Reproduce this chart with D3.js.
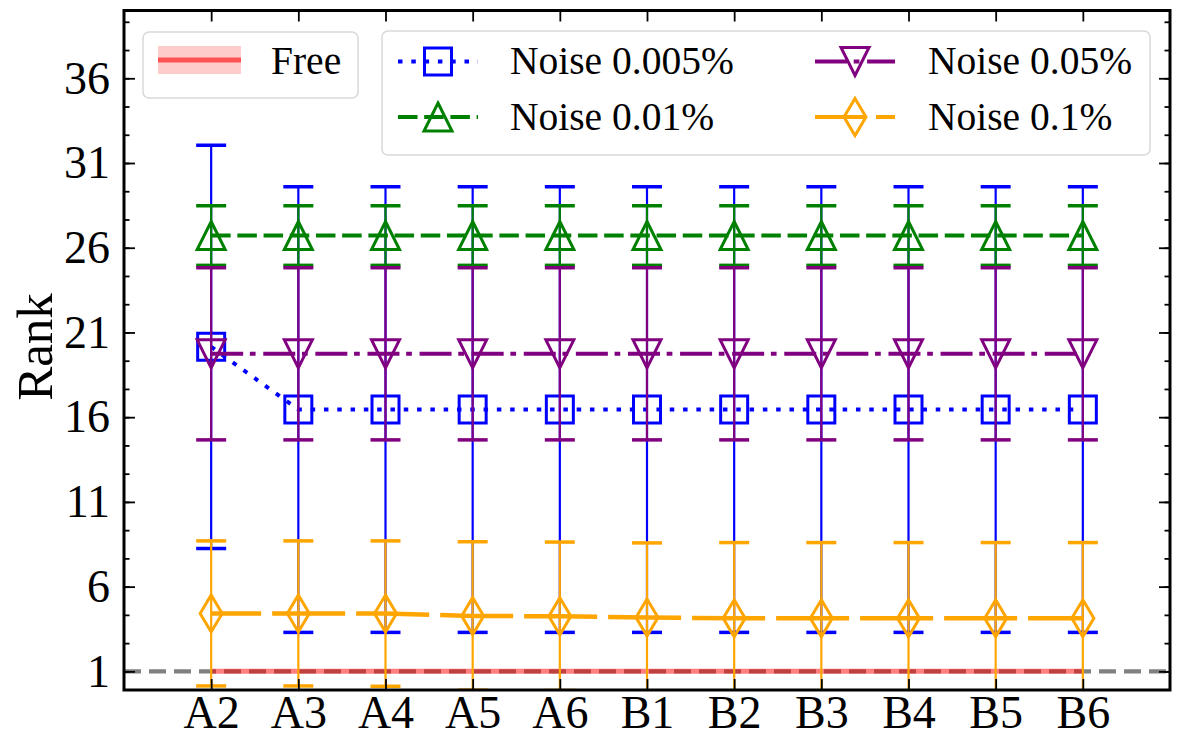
<!DOCTYPE html>
<html>
<head>
<meta charset="utf-8">
<script src="https://cdn.jsdelivr.net/npm/d3@7"></script>
<style>
  body { margin: 0; background: #fff; }
  svg { display: block; font-family: "Liberation Serif", "Times New Roman", serif; }
</style>
</head>
<body>
<div id="chart"></div>
<script>
// Categories on the x axis
const categories = ['A2', 'A3', 'A4', 'A5', 'A6', 'B1', 'B2', 'B3', 'B4', 'B5', 'B6'];

// Free baseline (rank 1, no spread)
const freeMean = [1, 1, 1, 1, 1, 1, 1, 1, 1, 1, 1];
const freeStd = [0, 0, 0, 0, 0, 0, 0, 0, 0, 0, 0];

// Noise series: mean rank and error
const noise005Mean = [20.15, 16.45, 16.45, 16.45, 16.45, 16.45, 16.45, 16.45, 16.45, 16.45, 16.45];
const noise005Err = [11.9, 13.15, 13.15, 13.15, 13.15, 13.15, 13.15, 13.15, 13.15, 13.15, 13.15];

const noise01Mean = [26.72, 26.72, 26.72, 26.72, 26.72, 26.72, 26.72, 26.72, 26.72, 26.72, 26.72];
const noise01Err = [1.76, 1.76, 1.76, 1.76, 1.76, 1.76, 1.76, 1.76, 1.76, 1.76, 1.76];

const noise05Mean = [19.74, 19.74, 19.74, 19.74, 19.74, 19.74, 19.74, 19.74, 19.74, 19.74, 19.74];
const noise05Err = [5.08, 5.08, 5.08, 5.08, 5.08, 5.08, 5.08, 5.08, 5.08, 5.08, 5.08];

const noise1Mean = [4.42, 4.42, 4.41, 4.27, 4.25, 4.18, 4.13, 4.13, 4.13, 4.13, 4.13];
const noise1Err = [4.28, 4.28, 4.29, 4.38, 4.38, 4.4, 4.47, 4.47, 4.47, 4.47, 4.47];

// Axis ticks
const yTicks = [1, 6, 11, 16, 21, 26, 31, 36];
const yMinorTicks = d3.range(1, 40, 5 / 3);

const W = 1199, H = 756;
const plot = { left: 124, right: 1170, top: 10.5, bottom: 690 };

const svg = d3.select('#chart').append('svg')
  .attr('width', W).attr('height', H);

const x = d3.scaleLinear().domain([-1, 11]).range([plot.left, plot.right]);
const y = d3.scaleLinear().domain([-0.1, 40]).range([plot.bottom, plot.top]);

svg.append('clipPath').attr('id', 'clip')
  .append('rect')
  .attr('x', plot.left).attr('y', plot.top)
  .attr('width', plot.right - plot.left).attr('height', plot.bottom - plot.top);

const g = svg.append('g').attr('clip-path', 'url(#clip)');

// Marker paths
function markerPath(type) {
  if (type === 'square') return 'M-13.5,-13.5H13.5V13.5H-13.5Z';
  if (type === 'up') return 'M0,-14L14,14H-14Z';
  if (type === 'down') return 'M0,14L14,-14H-14Z';
  if (type === 'diamond') return 'M0,-18.5L11,0L0,18.5L-11,0Z';
}

// Reference line at rank 1
g.append('line')
  .attr('x1', plot.left).attr('x2', plot.right)
  .attr('y1', y(1)).attr('y2', y(1))
  .attr('stroke', '#808080').attr('stroke-width', 4.2)
  .attr('stroke-dasharray', '17,8');

// Free band and line
const idx = d3.range(categories.length);
g.append('path')
  .datum(idx)
  .attr('fill', 'rgba(255,0,0,0.2)')
  .attr('d', d3.area()
    .x(i => x(i))
    .y0(i => y(freeMean[i] - freeStd[i]))
    .y1(i => y(freeMean[i] + freeStd[i])));
g.append('path')
  .datum(idx)
  .attr('fill', 'none')
  .attr('stroke', 'rgba(255,0,0,0.5)')
  .attr('stroke-width', 5)
  .attr('d', d3.line().x(i => x(i)).y(i => y(freeMean[i])));

const series = [
  { name: 'Noise 0.005%', mean: noise005Mean, err: noise005Err, color: '#0000ff', dash: '4.5,8.8', offset: 0, marker: 'square' },
  { name: 'Noise 0.01%', mean: noise01Mean, err: noise01Err, color: '#008000', dash: '19.5,6.7', offset: 0, marker: 'up' },
  { name: 'Noise 0.05%', mean: noise05Mean, err: noise05Err, color: '#800080', dash: '32,6.7,5.7,7.7', offset: 0, marker: 'down' },
  { name: 'Noise 0.1%', mean: noise1Mean, err: noise1Err, color: '#ffa500', dash: '73,11', offset: 23, marker: 'diamond' }
];

series.forEach(s => {
  g.append('path')
    .datum(idx)
    .attr('fill', 'none')
    .attr('stroke', s.color)
    .attr('stroke-width', s.marker === 'diamond' ? 4.5 : 4)
    .attr('stroke-dasharray', s.dash)
    .attr('stroke-dashoffset', s.offset)
    .attr('d', d3.line().x(i => x(i)).y(i => y(s.mean[i])));

  const eb = g.append('g').attr('stroke', s.color);
  eb.selectAll('line.bar').data(idx).join('line')
    .attr('class', 'bar')
    .attr('x1', i => x(i)).attr('x2', i => x(i))
    .attr('y1', i => y(s.mean[i] - s.err[i]))
    .attr('y2', i => y(s.mean[i] + s.err[i]))
    .attr('stroke-width', 2.2);
  eb.selectAll('line.capHi').data(idx).join('line')
    .attr('class', 'capHi')
    .attr('x1', i => x(i) - 15).attr('x2', i => x(i) + 15)
    .attr('y1', i => y(s.mean[i] + s.err[i]))
    .attr('y2', i => y(s.mean[i] + s.err[i]))
    .attr('stroke-width', 3.5);
  eb.selectAll('line.capLo').data(idx).join('line')
    .attr('class', 'capLo')
    .attr('x1', i => x(i) - 15).attr('x2', i => x(i) + 15)
    .attr('y1', i => y(s.mean[i] - s.err[i]))
    .attr('y2', i => y(s.mean[i] - s.err[i]))
    .attr('stroke-width', 3.5);

  g.append('g').selectAll('path').data(idx).join('path')
    .attr('transform', i => `translate(${x(i)},${y(s.mean[i])})`)
    .attr('d', markerPath(s.marker))
    .attr('fill', 'none')
    .attr('stroke', s.color)
    .attr('stroke-width', 3);
});

// Axes with inward ticks
function styleAxis(sel, fontSize) {
  sel.select('.domain').remove();
  sel.selectAll('.tick line').attr('stroke', '#000').attr('stroke-width', 1.8);
  sel.selectAll('.tick text')
    .attr('fill', '#000')
    .style('font-size', fontSize + 'px')
    .style('font-family', '"Liberation Serif", "Times New Roman", serif');
}

svg.append('g')
  .attr('transform', `translate(0,${plot.bottom})`)
  .call(d3.axisBottom(x).tickValues(idx).tickFormat(i => categories[i])
    .tickSize(-11).tickSizeOuter(0).tickPadding(5))
  .call(s => styleAxis(s, 46));
svg.append('g')
  .attr('transform', `translate(0,${plot.top})`)
  .call(d3.axisTop(x).tickValues(idx).tickFormat('').tickSize(-11).tickSizeOuter(0))
  .call(s => styleAxis(s, 46));

svg.append('g')
  .attr('transform', `translate(${plot.left},0)`)
  .call(d3.axisLeft(y).tickValues(yMinorTicks).tickFormat('').tickSize(-5.5).tickSizeOuter(0))
  .call(s => styleAxis(s, 46));
svg.append('g')
  .attr('transform', `translate(${plot.left},0)`)
  .call(d3.axisLeft(y).tickValues(yTicks).tickFormat(d3.format('d'))
    .tickSize(-11).tickSizeOuter(0).tickPadding(14))
  .call(s => styleAxis(s, 46));
svg.append('g')
  .attr('transform', `translate(${plot.right},0)`)
  .call(d3.axisRight(y).tickValues(yMinorTicks).tickFormat('').tickSize(-5.5).tickSizeOuter(0))
  .call(s => styleAxis(s, 46));
svg.append('g')
  .attr('transform', `translate(${plot.right},0)`)
  .call(d3.axisRight(y).tickValues(yTicks).tickFormat('').tickSize(-11).tickSizeOuter(0))
  .call(s => styleAxis(s, 46));

// Frame
svg.append('rect')
  .attr('x', plot.left).attr('y', plot.top)
  .attr('width', plot.right - plot.left).attr('height', plot.bottom - plot.top)
  .attr('fill', 'none').attr('stroke', '#000').attr('stroke-width', 3);

// Y label
svg.append('text')
  .attr('transform', 'translate(52,347) rotate(-90)')
  .attr('text-anchor', 'middle')
  .style('font-size', '51px')
  .text('Rank');

// Legend: Free
const leg1 = svg.append('g');
leg1.append('rect')
  .attr('x', 143).attr('y', 32).attr('width', 215).attr('height', 66)
  .attr('rx', 6).attr('fill', 'rgba(255,255,255,0.8)')
  .attr('stroke', '#d9d9d9').attr('stroke-width', 1.5);
leg1.append('rect')
  .attr('x', 158).attr('y', 46).attr('width', 83).attr('height', 28)
  .attr('fill', 'rgba(255,0,0,0.2)');
leg1.append('line')
  .attr('x1', 158).attr('x2', 241).attr('y1', 60).attr('y2', 60)
  .attr('stroke', 'rgba(255,0,0,0.6)').attr('stroke-width', 5);
leg1.append('text')
  .attr('x', 271).attr('y', 74)
  .style('font-size', '39.5px')
  .text('Free');

// Legend: noise series
const leg2 = svg.append('g');
leg2.append('rect')
  .attr('x', 382).attr('y', 31).attr('width', 768).attr('height', 124)
  .attr('rx', 6).attr('fill', 'rgba(255,255,255,0.8)')
  .attr('stroke', '#d9d9d9').attr('stroke-width', 1.5);

const legPos = [
  { x0: 398, ty: 74, cy: 61.5, tx: 510 },
  { x0: 398, ty: 130, cy: 117, tx: 510 },
  { x0: 815, ty: 74, cy: 61.5, tx: 928 },
  { x0: 815, ty: 130, cy: 117, tx: 928 }
];
series.forEach((s, k) => {
  const p = legPos[k];
  leg2.append('line')
    .attr('x1', p.x0).attr('x2', p.x0 + 80)
    .attr('y1', p.cy).attr('y2', p.cy)
    .attr('stroke', s.color).attr('stroke-width', 4)
    .attr('stroke-dasharray', s.dash)
    .attr('stroke-dashoffset', s.offset);
  leg2.append('path')
    .attr('transform', `translate(${p.x0 + 40},${p.cy})`)
    .attr('d', markerPath(s.marker))
    .attr('fill', 'none').attr('stroke', s.color).attr('stroke-width', 3);
  leg2.append('text')
    .attr('x', p.tx).attr('y', p.ty)
    .style('font-size', '39.5px')
    .text(s.name);
});
</script>
</body>
</html>
